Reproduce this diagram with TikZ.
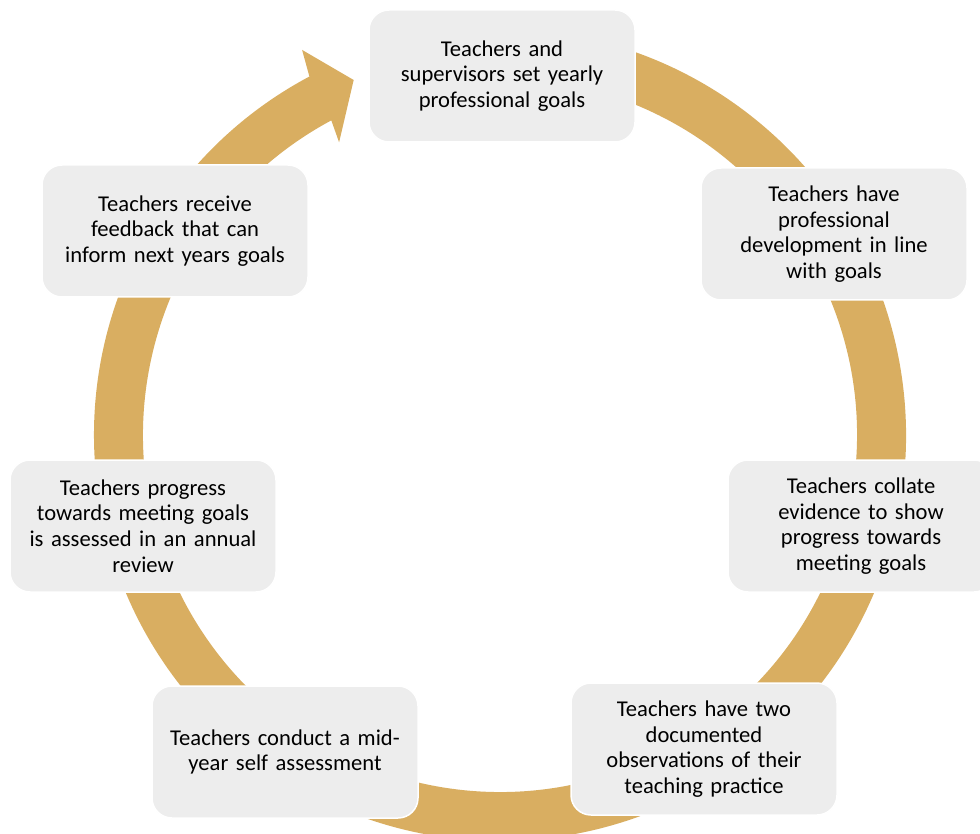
\documentclass[tikz,border=0pt]{standalone}
\usepackage{fontspec}
\setmainfont{Carlito}
\usetikzlibrary{calc}
\definecolor{ringgold}{HTML}{D9AE61}
\definecolor{boxgray}{HTML}{EDEDED}
\tikzset{
  stagebox/.style={draw=white, line width=1.5pt, fill=boxgray, rounded corners=20pt,
    minimum width=266pt, minimum height=132pt, inner sep=0pt, text width=262pt,
    align=center, text=black, font=\fontsize{22.6}{25.8}\selectfont}
}
\begin{document}
\begin{tikzpicture}[x=1pt,y=1pt]
\useasboundingbox (0,0) rectangle (980,-834);
\coordinate (C) at (500,-435);
% circular arrow
\fill[ringgold] ($(C)+(100:406)$) arc[start angle=100, end angle=-242, radius=406]
  -- ($(C)+(117.2:433)$) -- ($(C)+(112.4:384)$) -- ($(C)+(118.8:334)$)
  -- ($(C)+(118.2:357)$) arc[start angle=-241.8, end angle=100, radius=357] -- cycle;
% stages
\node[stagebox] (s1) at (502,-76) {Teachers and\\supervisors set yearly\\professional goals};
\node[stagebox] (s2) at (834,-234) {Teachers have\\professional\\development in line\\with goals};
\node[stagebox] (s3) at (861,-526) {Teachers collate\\evidence to show\\progress towards\\meeting goals};
\node[stagebox] (s4) at (704,-749) {Teachers have two\\documented\\observations of their\\teaching practice};
\node[stagebox] (s5) at (285,-752) {Teachers conduct a mid-\\year self assessment};
\node[stagebox] (s6) at (143,-526) {Teachers progress\\towards meeting goals\\is assessed in an annual\\review};
\node[stagebox] (s7) at (175,-231) {Teachers receive\\feedback that can\\inform next years goals};
\end{tikzpicture}
\end{document}
